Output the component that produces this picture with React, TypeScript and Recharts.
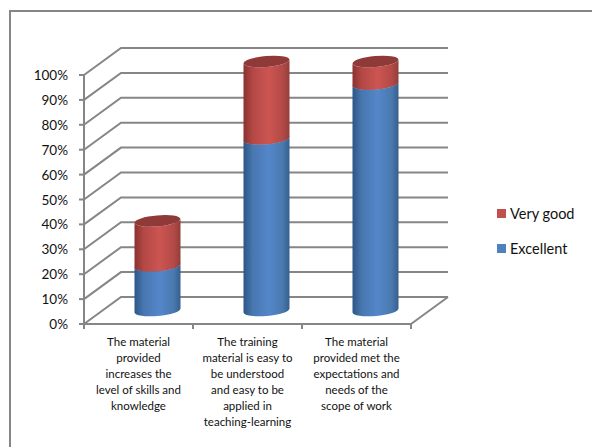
import React from 'react';
import { BarChart, Bar, XAxis, YAxis, CartesianGrid, Legend } from 'recharts';

const categories = [
  ['The material', 'provided', 'increases the', 'level of skills and', 'knowledge'],
  ['The training', 'material is easy to', 'be understood', 'and easy to be', 'applied in', 'teaching-learning'],
  ['The material', 'provided met the', 'expectations and', 'needs of the', 'scope of work'],
];
const excellent = [18, 69, 91];
const veryGood = [18, 31, 9];
const yTicks = [0, 10, 20, 30, 40, 50, 60, 70, 80, 90, 100];

const data = categories.map((lines, i) => ({
  name: lines.join(' '),
  lines,
  excellent: excellent[i],
  veryGood: veryGood[i],
}));

const WIDTH = 592;
const HEIGHT = 447;
const FONT = 'Lato, "Open Sans", sans-serif';
const GRID = '#868686';

// 3D depth of the box: the back wall sits up and to the right of the front plane
const DEPTH_X = 37;
const DEPTH_Y = -27;
const BAND = 109;

const RADIUS_Y = 5.5;
const TILT = -5;
const SLOPE = Math.tan((TILT * Math.PI) / 180);

const Defs = () => (
  <defs>
    <linearGradient id="blueSide" x1="0" x2="1" y1="0" y2="0">
      <stop offset="0" stopColor="#2c5685" />
      <stop offset="0.2" stopColor="#4877b0" />
      <stop offset="0.55" stopColor="#5487ca" />
      <stop offset="0.85" stopColor="#4a79af" />
      <stop offset="1" stopColor="#355f8e" />
    </linearGradient>
    <linearGradient id="redSide" x1="0" x2="1" y1="0" y2="0">
      <stop offset="0" stopColor="#8a3230" />
      <stop offset="0.2" stopColor="#b34845" />
      <stop offset="0.55" stopColor="#cc5551" />
      <stop offset="0.85" stopColor="#b34a47" />
      <stop offset="1" stopColor="#933d3a" />
    </linearGradient>
  </defs>
);

// Cylinder segment, moved to the middle of the box depth
const Cylinder = ({ x, y, width, height, side, cap }: any) => {
  const rx = width / 2;
  const left = x + DEPTH_X / 2;
  const right = left + width;
  const top = y + DEPTH_Y / 2;
  const bottom = top + height;
  const dy = rx * SLOPE;
  const arc = (sweep: number, tx: number, ty: number) =>
    `A ${rx} ${RADIUS_Y} ${TILT} 0 ${sweep} ${tx} ${ty}`;
  const d = [
    `M ${left} ${top - dy}`,
    `L ${left} ${bottom - dy}`,
    arc(0, right, bottom + dy),
    `L ${right} ${top + dy}`,
    arc(1, left, top - dy),
    'Z',
  ].join(' ');
  return (
    <g>
      <path d={d} fill={`url(#${side})`} />
      <ellipse
        cx={left + rx}
        cy={top}
        rx={rx}
        ry={RADIUS_Y}
        fill={cap}
        transform={`rotate(${TILT} ${left + rx} ${top})`}
      />
    </g>
  );
};

// One gridline per tick: up the side wall, then along the back wall
const WallLine = ({ x1, x2, y1, index }: any) => {
  const backY = y1 + DEPTH_Y;
  const backRight = x2 + DEPTH_X;
  const points = `${x1},${y1} ${x1 + DEPTH_X},${backY} ${backRight},${backY}`;
  const isFloor = Math.abs(y1 - 324) < 0.5;
  return (
    <g key={`wall-${index}`}>
      <polyline points={points} fill="none" stroke={GRID} strokeWidth={2} />
      {isFloor && <line x1={x2} y1={y1} x2={backRight} y2={backY} stroke={GRID} strokeWidth={2} />}
    </g>
  );
};

const YTick = ({ x, y, payload }: any) => (
  <g>
    <line x1={x - 5} y1={y} x2={x} y2={y} stroke={GRID} strokeWidth={2} />
    <text x={x - 16} y={y + 5} textAnchor="end" fontSize={13.5} fontFamily={FONT} fill="#111">
      {payload.value}%
    </text>
  </g>
);

const XTick = ({ x, y, index }: any) => (
  <g>
    {index === 0 && <line x1={x - BAND / 2} y1={y} x2={x - BAND / 2} y2={y + 5} stroke={GRID} strokeWidth={2} />}
    <line x1={x + BAND / 2} y1={y} x2={x + BAND / 2} y2={y + 5} stroke={GRID} strokeWidth={2} />
    <text textAnchor="middle" fontSize={11.5} fontFamily={FONT} fill="#111">
      {categories[index].map((line, i) => (
        <tspan key={i} x={x} y={y + 22 + i * 16}>
          {line}
        </tspan>
      ))}
    </text>
  </g>
);

const LegendContent = ({ payload }: any) => (
  <div style={{ fontFamily: FONT, fontSize: 14.5, color: '#111' }}>
    {[...payload].reverse().map((item: any) => (
      <div key={item.value} style={{ display: 'flex', alignItems: 'center', height: 35 }}>
        <span style={{ width: 9, height: 9, background: item.color, marginRight: 4 }} />
        {item.value}
      </div>
    ))}
  </div>
);

export default function App() {
  return (
    <div style={{ position: 'absolute', left: 0, top: 0, width: WIDTH, height: HEIGHT, background: '#fff', overflow: 'hidden' }}>
      <div
        style={{
          position: 'absolute',
          left: 9,
          top: 10,
          right: 0,
          bottom: 0,
          borderLeft: '2px solid #868686',
          borderTop: '2px solid #868686',
        }}
      />
      <BarChart
        width={WIDTH}
        height={HEIGHT}
        data={data}
        barSize={46}
        margin={{ top: 75, right: 91, bottom: 0, left: 24 }}
        style={{ position: 'absolute', left: 0, top: 0 }}
      >
        <Defs />
        <CartesianGrid vertical={false} horizontal={(props: any) => <WallLine {...props} />} />
        <XAxis
          dataKey="name"
          interval={0}
          height={123}
          tickLine={false}
          tickSize={0}
          tickMargin={0}
          tick={<XTick />}
          axisLine={{ stroke: GRID, strokeWidth: 2 }}
        />
        <YAxis
          width={60}
          domain={[0, 100]}
          ticks={yTicks}
          interval={0}
          tickLine={false}
          tickSize={0}
          tickMargin={0}
          tick={<YTick />}
          axisLine={{ stroke: GRID, strokeWidth: 2 }}
        />
        <Legend
          layout="vertical"
          align="right"
          verticalAlign="top"
          content={<LegendContent />}
          wrapperStyle={{ left: 497, top: 196, width: 90 }}
        />
        <Bar
          dataKey="excellent"
          name="Excellent"
          stackId="a"
          fill="#4F81BD"
          isAnimationActive={false}
          shape={(p: any) => <Cylinder {...p} side="blueSide" cap="#3f6fa8" />}
        />
        <Bar
          dataKey="veryGood"
          name="Very good"
          stackId="a"
          fill="#C0504D"
          isAnimationActive={false}
          shape={(p: any) => <Cylinder {...p} side="redSide" cap="#8f3a38" />}
        />
      </BarChart>
    </div>
  );
}
